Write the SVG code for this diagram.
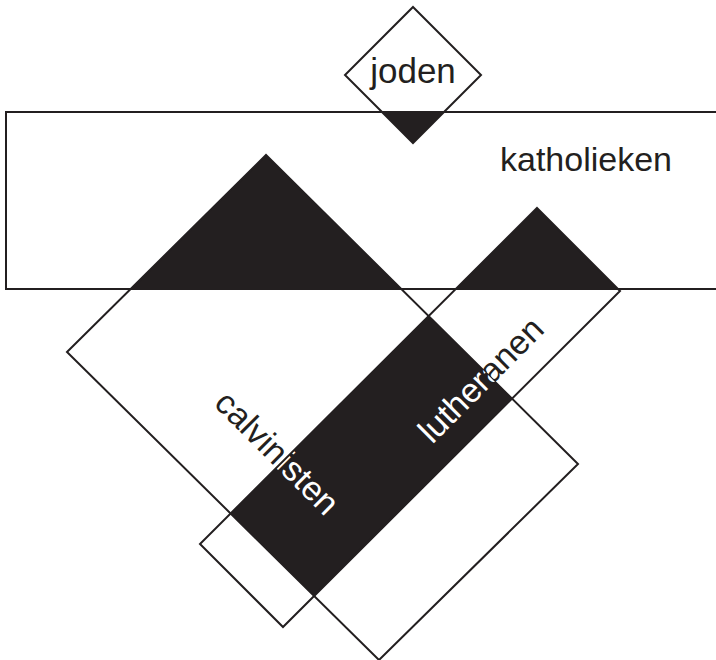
<svg xmlns="http://www.w3.org/2000/svg" xmlns:xlink="http://www.w3.org/1999/xlink" width="716" height="660" viewBox="0 0 716 660">
  <style>
    .outline { fill: none; stroke: #231f20; stroke-width: 2; stroke-linejoin: miter; }
    .solid { fill: #231f20; stroke: none; }
    .lbl { font-family: "Liberation Sans", Arial, Helvetica, sans-serif; font-size: 34px; fill: #231f20; }
    .lbl-w { fill: #ffffff; }
  </style>
  <defs>
    <rect id="kathShape" x="6" y="112" width="760" height="177"/>
    <polygon id="jodShape" points="413,7 481,75 413,143 345,75"/>
    <polygon id="calvShape" points="67,352 266,155 578,464 379,660"/>
    <polygon id="luthShape" points="537,208 620,291 283,627 200,544"/>
    <clipPath id="clipKath"><use xlink:href="#kathShape"/></clipPath>
    <clipPath id="clipCalv"><use xlink:href="#calvShape"/></clipPath>
    <clipPath id="clipLuth"><use xlink:href="#luthShape"/></clipPath>
  </defs>
  <rect x="0" y="0" width="716" height="660" fill="#ffffff"/>

  <!-- overlap regions (filled black) -->
  <g id="overlaps">
    <use xlink:href="#jodShape" class="solid" clip-path="url(#clipKath)"/>
    <use xlink:href="#calvShape" class="solid" clip-path="url(#clipKath)"/>
    <use xlink:href="#luthShape" class="solid" clip-path="url(#clipKath)"/>
    <use xlink:href="#calvShape" class="solid" clip-path="url(#clipLuth)"/>
  </g>

  <g id="katholieken">
    <use xlink:href="#kathShape" class="outline"/>
    <text class="lbl" x="500" y="171">katholieken</text>
  </g>

  <g id="joden">
    <use xlink:href="#jodShape" class="outline"/>
    <text class="lbl" x="413" y="83" text-anchor="middle" style="font-size:35px">joden</text>
  </g>

  <g id="calvinisten">
    <use xlink:href="#calvShape" class="outline"/>
    <text class="lbl" x="0" y="0" text-anchor="middle" transform="translate(269,461) rotate(45)">calvinisten</text>
    <g clip-path="url(#clipLuth)">
      <g clip-path="url(#clipCalv)">
        <text class="lbl lbl-w" x="0" y="0" text-anchor="middle" transform="translate(269,461) rotate(45)">calvinisten</text>
      </g>
    </g>
  </g>

  <g id="lutheranen">
    <use xlink:href="#luthShape" class="outline"/>
    <text class="lbl" x="0" y="0" text-anchor="middle" transform="translate(489,388) rotate(-45)">lutheranen</text>
    <g clip-path="url(#clipLuth)">
      <g clip-path="url(#clipCalv)">
        <text class="lbl lbl-w" x="0" y="0" text-anchor="middle" transform="translate(489,388) rotate(-45)">lutheranen</text>
      </g>
    </g>
  </g>

  <g id="connectors"/>
</svg>
